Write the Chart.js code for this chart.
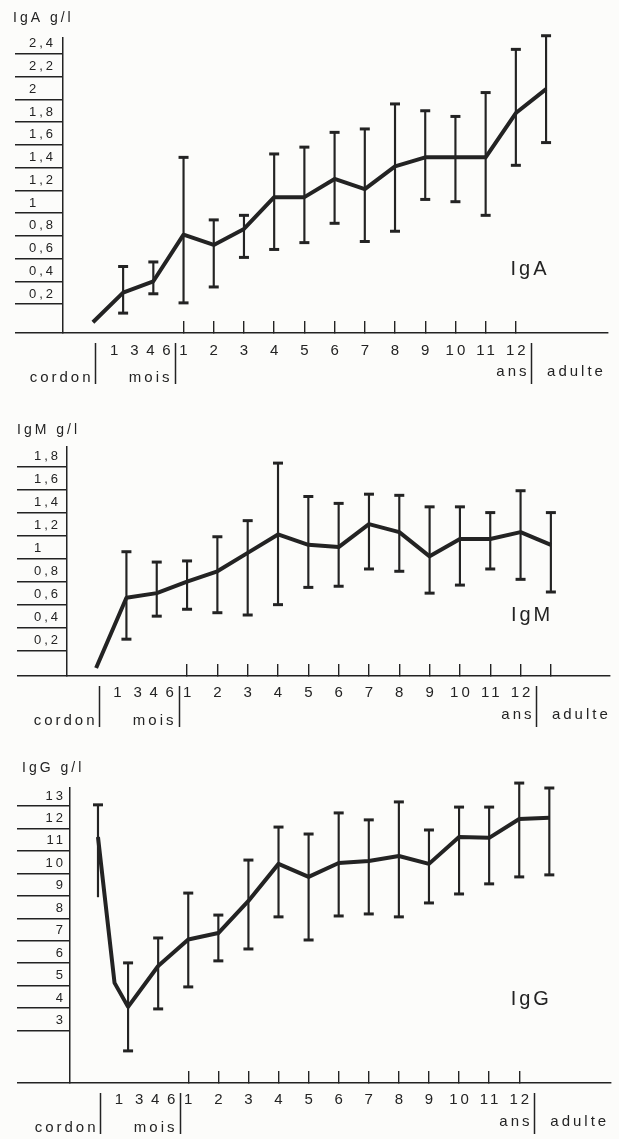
<!DOCTYPE html>
<html>
<head>
<meta charset="utf-8">
<script src="https://cdn.jsdelivr.net/npm/chart.js@4.4.0/dist/chart.umd.min.js"></script>
<style>
  html, body { margin: 0; padding: 0; background: #fcfcfa; }
  .panel { position: relative; width: 619px; }
  canvas { display: block; }
</style>
</head>
<body>
<div class="panel" style="height:395px"><canvas id="igaChart"></canvas></div>
<div class="panel" style="height:340px"><canvas id="igmChart"></canvas></div>
<div class="panel" style="height:404px"><canvas id="iggChart"></canvas></div>
<script>
const ink = '#232323';
const family = '"Liberation Sans", Arial, Helvetica, sans-serif';

// abscisse commune : cordon, mois, ans, adulte
const ages = ['cordon', '1-3 mois', '4-6 mois', '1 an', '2 ans', '3 ans', '4 ans', '5 ans', '6 ans',
              '7 ans', '8 ans', '9 ans', '10 ans', '11 ans', '12 ans', 'adulte'];
const agePos = [0, 1, 2, 3, 4, 5, 6, 7, 8, 9, 10, 11, 12, 13, 14, 15];
const xTickPos = [0.7, 1.37, 1.9, 2.43, 3, 4, 5, 6, 7, 8, 9, 10, 11, 12, 13, 14, 15];
const xTickLabels = ['1', '3', '4', '6', '1', '2', '3', '4', '5', '6', '7', '8', '9', '10', '11', '12', ''];

// IgA g/l
const igaMean = [0.04, 0.30, 0.40, 0.81, 0.72, 0.86, 1.14, 1.14, 1.30, 1.21, 1.41, 1.49, 1.49, 1.49, 1.88, 2.09];
const igaHigh = [null, 0.53, 0.57, 1.49, 0.94, 0.98, 1.52, 1.58, 1.71, 1.74, 1.96, 1.90, 1.85, 2.06, 2.44, 2.56];
const igaLow  = [null, 0.12, 0.29, 0.21, 0.35, 0.61, 0.68, 0.74, 0.91, 0.75, 0.84, 1.12, 1.10, 0.98, 1.42, 1.62];
const igaYTicks = [0.2, 0.4, 0.6, 0.8, 1, 1.2, 1.4, 1.6, 1.8, 2, 2.2, 2.4];

// IgM g/l
const igmMean = [0.05, 0.66, 0.70, 0.80, 0.89, 1.05, 1.21, 1.12, 1.10, 1.30, 1.23, 1.02, 1.17, 1.17, 1.23, 1.12];
const igmHigh = [null, 1.06, 0.97, 0.98, 1.19, 1.33, 1.83, 1.54, 1.48, 1.56, 1.55, 1.45, 1.45, 1.40, 1.59, 1.40];
const igmLow  = [null, 0.30, 0.50, 0.56, 0.53, 0.51, 0.60, 0.75, 0.76, 0.91, 0.89, 0.70, 0.77, 0.91, 0.82, 0.71];
const igmYTicks = [0.2, 0.4, 0.6, 0.8, 1, 1.2, 1.4, 1.6, 1.8];

// IgG g/l (un point de plus : 1 mois)
const iggAges = ['cordon', '1 mois', '3 mois', '4-6 mois', '1 an', '2 ans', '3 ans', '4 ans', '5 ans', '6 ans',
                 '7 ans', '8 ans', '9 ans', '10 ans', '11 ans', '12 ans', 'adulte'];
const iggPos = [0, 0.55, 1, 2, 3, 4, 5, 6, 7, 8, 9, 10, 11, 12, 13, 14, 15];
const iggMean = [11.62, 5.12, 4.05, 5.87, 7.05, 7.34, 8.77, 10.42, 9.84, 10.46, 10.55, 10.77, 10.42, 11.62, 11.58, 12.42, 12.47];
const iggHigh = [13.05, null, 6.01, 7.12, 9.12, 8.14, 10.59, 12.06, 11.75, 12.69, 12.38, 13.18, 11.93, 12.95, 12.95, 14.02, 13.80];
const iggLow  = [8.95, null, 2.09, 3.96, 4.94, 6.10, 6.63, 8.06, 7.03, 8.10, 8.19, 8.06, 8.68, 9.08, 9.53, 9.84, 9.93];
const iggNoLowCap = ['cordon'];
const iggYTicks = [3, 4, 5, 6, 7, 8, 9, 10, 11, 12, 13];

function annotations(s) {
    return {
        id: 'annotations',
        beforeUpdate(chart) { chart.ctx.letterSpacing = '3px'; },
        beforeDraw(chart) { chart.ctx.letterSpacing = '3px'; },
        afterDraw(chart) {
            const { ctx, chartArea, scales: { x, y } } = chart;
            const base = chartArea.bottom;
            ctx.save();
            ctx.letterSpacing = '3px';
            ctx.fillStyle = ink;
            ctx.strokeStyle = ink;
            ctx.textBaseline = 'middle';

            ctx.font = '14px ' + family;
            ctx.textAlign = 'left';
            ctx.fillText(s.title, s.titleX, s.titleY);

            ctx.font = '20px ' + family;
            ctx.textAlign = 'center';
            ctx.fillText(s.name, x.getPixelForValue(s.nameAt[0]), y.getPixelForValue(s.nameAt[1]));

            // séparateurs cordon | mois | ans | adulte
            const seps = [0.08, 2.72, 14.5].map(v => Math.round(x.getPixelForValue(v)) + 0.5);
            ctx.lineWidth = 1.5;
            seps.forEach(px => {
                ctx.beginPath();
                ctx.moveTo(px, base + 10);
                ctx.lineTo(px, base + 51);
                ctx.stroke();
            });

            ctx.font = '15px ' + family;
            ctx.textAlign = 'right';
            ctx.fillText('cordon', seps[0] - 2, base + 45);
            ctx.fillText('mois', seps[1] - 3, base + 45);
            ctx.fillText('ans', seps[2] - 2, base + 39);
            ctx.textAlign = 'left';
            ctx.fillText('adulte', x.getPixelForValue(15) + 1, base + 39);
            ctx.restore();
        }
    };
}

function makeChart(id, s) {
    const whiskers = [];
    const caps = [];
    s.pos.forEach((p, i) => {
        if (s.low[i] == null) return;
        whiskers.push({ x: p, y: [s.low[i], s.high[i]] });
        caps.push({ x: p, y: s.high[i] });
        if (!s.noLowCap.includes(s.labels[i])) caps.push({ x: p, y: s.low[i] });
    });

    return new Chart(document.getElementById(id), {
        type: 'line',
        data: {
            datasets: [
                {
                    label: s.name,
                    data: s.pos.map((p, i) => ({ x: p, y: s.mean[i] })),
                    borderColor: ink,
                    borderWidth: 4,
                    borderJoinStyle: 'round',
                    pointRadius: 0,
                    tension: 0,
                    clip: false
                },
                {
                    type: 'bar',
                    label: 'écart',
                    data: whiskers,
                    backgroundColor: ink,
                    borderWidth: 0,
                    barThickness: 1.5,
                    grouped: false,
                    clip: false
                },
                {
                    label: 'bornes',
                    data: caps,
                    showLine: false,
                    pointStyle: 'line',
                    pointRadius: 5,
                    pointBorderWidth: 3,
                    pointBorderColor: ink,
                    clip: false
                }
            ]
        },
        options: {
            responsive: true,
            maintainAspectRatio: false,
            animation: false,
            events: [],
            layout: { padding: { top: s.top, left: s.left, right: s.right, bottom: 0 } },
            plugins: { legend: { display: false }, tooltip: { enabled: false } },
            scales: {
                x: {
                    type: 'linear',
                    offset: false,
                    min: s.xMin,
                    max: s.xMax,
                    afterBuildTicks: sc => { sc.ticks = xTickPos.map(v => ({ value: v })); },
                    afterFit: sc => { sc.height = s.xHeight; },
                    grid: {
                        offset: false,
                        drawOnChartArea: false,
                        tickLength: -12,
                        lineWidth: 1.4,
                        color: c => (c.tick && c.tick.value >= 3 && c.tick.value <= s.lastTick) ? ink : 'rgba(0,0,0,0)'
                    },
                    border: { color: ink, width: 1.5 },
                    ticks: {
                        autoSkip: false,
                        maxRotation: 0,
                        padding: s.xPad,
                        labelOffset: 1.5,
                        color: ink,
                        font: { family: family, size: 15 },
                        callback: (v, i) => xTickLabels[i]
                    }
                },
                y: {
                    type: 'linear',
                    min: s.yMin,
                    max: s.yMax,
                    afterBuildTicks: sc => { sc.ticks = [s.yMin].concat(s.yTicks).map(v => ({ value: v })); },
                    afterFit: sc => { sc.width = s.yWidth; },
                    grid: { drawOnChartArea: false, tickLength: s.tickLen, lineWidth: 1.4, color: ink },
                    border: { color: ink, width: 1.5 },
                    ticks: {
                        autoSkip: false,
                        crossAlign: s.align,
                        padding: s.yPad,
                        labelOffset: -10,
                        color: ink,
                        font: { family: family, size: 13 },
                        callback: v => v === s.yMin ? '' : String(v).replace('.', ',')
                    }
                }
            }
        },
        plugins: [annotations(s)]
    });
}

makeChart('igaChart', {
    name: 'IgA', title: 'IgA g/l', titleX: 13, titleY: 18, nameAt: [14.47, 0.5],
    labels: ages, pos: agePos, mean: igaMean, high: igaHigh, low: igaLow, noLowCap: [],
    yTicks: igaYTicks, yMin: -0.055, yMax: 2.54, xMin: -0.99, xMax: 17.05, lastTick: 14,
    top: 38, left: 29, right: 11, yWidth: 34, xHeight: 62, tickLen: 48,
    align: 'far', yPad: 0, xPad: 21
});

makeChart('igmChart', {
    name: 'IgM', title: 'IgM g/l', titleX: 17, titleY: 35, nameAt: [14.38, 0.51],
    labels: ages, pos: agePos, mean: igmMean, high: igmHigh, low: igmLow, noLowCap: [],
    yTicks: igmYTicks, yMin: -0.02, yMax: 1.97, xMin: -0.96, xMax: 16.95, lastTick: 15,
    top: 52, left: 34, right: 9, yWidth: 33, xHeight: 59, tickLen: 50,
    align: 'far', yPad: 0, xPad: 20
});

makeChart('iggChart', {
    name: 'IgG', title: 'IgG g/l', titleX: 22, titleY: 33, nameAt: [14.4, 4.36],
    labels: iggAges, pos: iggPos, mean: iggMean, high: iggHigh, low: iggLow, noLowCap: iggNoLowCap,
    yTicks: iggYTicks, yMin: 0.66, yMax: 13.8, xMin: -0.93, xMax: 17.05, lastTick: 14,
    top: 53, left: 17, right: 6, yWidth: 53, xHeight: 56, tickLen: 53,
    align: 'near', yPad: -49, xPad: 20
});
</script>
</body>
</html>
